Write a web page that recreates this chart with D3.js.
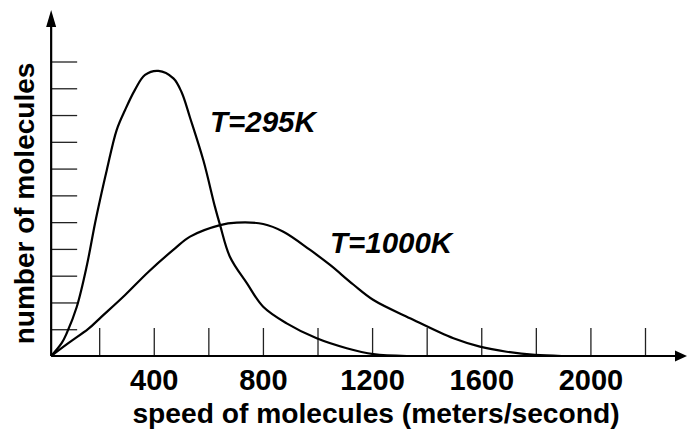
<!DOCTYPE html>
<html>
  <head>
    <meta charset="utf-8">
    <title>Maxwell speed distribution</title>
    <script src="https://cdn.jsdelivr.net/npm/d3@7/dist/d3.min.js"></script>
    <style>
      body { margin: 0; background: #fff; }
      text { font-family: 'Liberation Sans', Arial, sans-serif; font-weight: bold; fill: #000; }
    </style>
  </head>
  <body>
    <svg width="688" height="432"></svg>
    <script>
      // values (speed in m/s, count in tick units)
      const speed295 = [24, 63, 81, 118, 154, 185, 203, 228, 264, 295, 331, 368, 417, 472, 502, 533, 582, 624, 643, 679, 741, 801, 887, 997, 1107, 1205, 1327]
      const count295 = [0, 0.49, 0.85, 1.84, 3.34, 4.97, 5.83, 6.95, 8.44, 9.19, 9.94, 10.5, 10.65, 10.37, 9.85, 8.9, 7.3, 5.58, 4.89, 3.71, 2.72, 1.84, 1.22, 0.66, 0.29, 0.07, 0]

      const speed1000 = [24, 87, 160, 209, 295, 380, 478, 533, 643, 704, 801, 875, 973, 1046, 1131, 1205, 1339, 1498, 1595, 1693, 1797, 1895]
      const count1000 = [0, 0.48, 1.01, 1.47, 2.28, 3.14, 4.02, 4.46, 4.89, 4.98, 4.93, 4.64, 3.96, 3.4, 2.67, 2.09, 1.41, 0.66, 0.35, 0.16, 0.04, 0]

      const xTicks = [200, 400, 600, 800, 1000, 1200, 1400, 1600, 1800, 2000, 2200]
      const xLabels = [400, 800, 1200, 1600, 2000]
      const yTicks = [1, 2, 3, 4, 5, 6, 7, 8, 9, 10, 11]
      const originSpeed = 24 // where the vertical axis crosses

      const svg = d3.select('svg')

      const x = d3.scaleLinear().domain([0, 2200]).range([44.6, 645])
      const y = d3.scaleLinear().domain([0, 11]).range([356, 61.5])

      const x0 = x(originSpeed)
      const y0 = y(0)

      // ticks, drawn with the axis generators (no domain line)
      const xAxis = svg.append('g')
        .attr('transform', `translate(0,${y0})`)
        .call(d3.axisBottom(x)
          .tickValues(xTicks)
          .tickSize(-28)
          .tickPadding(13)
          .tickFormat((d) => (xLabels.includes(d) ? d : '')))
      xAxis.select('.domain').remove()
      xAxis.selectAll('line').attr('stroke', '#222').attr('stroke-width', 1.3)
      xAxis.selectAll('text')
        .attr('font-size', 29)
        .attr('font-family', "'Liberation Sans', Arial, sans-serif")
        .attr('font-weight', 'bold')
        .attr('fill', '#000')

      const yAxis = svg.append('g')
        .attr('transform', `translate(${x0},0)`)
        .call(d3.axisLeft(y).tickValues(yTicks).tickSize(-26).tickFormat(''))
      yAxis.select('.domain').remove()
      yAxis.selectAll('line').attr('stroke', '#222').attr('stroke-width', 1.3)

      // axis lines with arrow heads
      svg.append('line')
        .attr('x1', x0).attr('y1', y0).attr('x2', 678).attr('y2', y0)
        .attr('stroke', '#000').attr('stroke-width', 2.2)
      svg.append('path')
        .attr('d', `M687,${y0} L675,${y0 - 5.5} L675,${y0 + 5.5} Z`)
        .attr('fill', '#000')

      svg.append('line')
        .attr('x1', x0).attr('y1', y0).attr('x2', x0).attr('y2', 24)
        .attr('stroke', '#000').attr('stroke-width', 2.2)
      svg.append('path')
        .attr('d', `M${x0},10 L${x0 - 5},27 L${x0 + 5},27 Z`)
        .attr('fill', '#000')

      // curves
      const line = d3.line()
        .x((d) => x(d[0]))
        .y((d) => y(d[1]))
        .curve(d3.curveCatmullRom.alpha(0.5))

      svg.append('path')
        .datum(d3.zip(speed295, count295))
        .attr('d', line)
        .attr('fill', 'none')
        .attr('stroke', '#000')
        .attr('stroke-width', 2.2)

      svg.append('path')
        .datum(d3.zip(speed1000, count1000))
        .attr('d', line)
        .attr('fill', 'none')
        .attr('stroke', '#000')
        .attr('stroke-width', 2.2)

      // curve labels
      svg.append('text')
        .attr('x', 210).attr('y', 131.5)
        .attr('font-size', 29.5).attr('font-style', 'italic')
        .text('T=295K')

      svg.append('text')
        .attr('x', 330).attr('y', 252.5)
        .attr('font-size', 29.5).attr('font-style', 'italic')
        .text('T=1000K')

      // axis titles
      svg.append('text')
        .attr('x', 376).attr('y', 423)
        .attr('text-anchor', 'middle')
        .attr('font-size', 28.2)
        .text('speed of molecules (meters/second)')

      svg.append('text')
        .attr('transform', 'translate(34,203.5) rotate(-90)')
        .attr('text-anchor', 'middle')
        .attr('font-size', 28)
        .text('number of molecules')
    </script>
  </body>
</html>
